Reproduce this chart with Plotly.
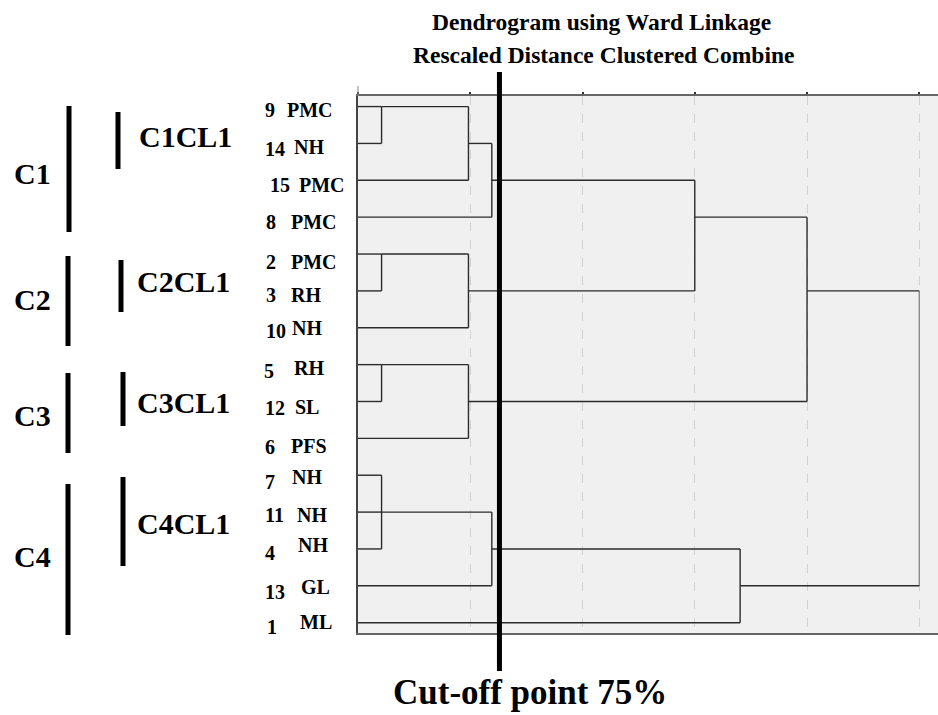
import plotly.graph_objects as go

# ---------------- data ----------------
leaf_ids = ["9", "14", "15", "8", "2", "3", "10", "5", "12", "6", "7", "11", "4", "13", "1"]
leaf_names = ["PMC", "NH", "PMC", "PMC", "PMC", "RH", "NH", "RH", "SL", "PFS", "NH", "NH", "NH", "GL", "ML"]

# merges: children (leaf index "L#" or merge index "M#"), rescaled distance, output row
merge_children = [
    ["L0", "L1"],          # M0  9,14
    ["M0", "L2"],          # M1  +15
    ["M1", "L3"],          # M2  +8
    ["L4", "L5"],          # M3  2,3
    ["M3", "L6"],          # M4  +10
    ["M2", "M4"],          # M5
    ["L7", "L8"],          # M6  5,12
    ["M6", "L9"],          # M7  +6
    ["M5", "M7"],          # M8
    ["L10", "L11", "L12"], # M9  7,11,4
    ["M9", "L13"],         # M10 +13
    ["M10", "L14"],        # M11 +1
    ["M8", "M11"],         # M12 root
]
merge_dist = [1.05, 4.92, 5.96, 1.05, 4.92, 15.0, 1.05, 4.92, 20.0, 1.05, 5.96, 17.02, 25.0]
merge_row = [0, 1, 2, 4, 5, 3, 7, 8, 5, 11, 12, 13, 13]

distance_ticks = [0, 5, 10, 15, 20, 25]
cut_off = 6.3

groups = ["C1", "C2", "C3", "C4"]
subgroups = ["C1CL1", "C2CL1", "C3CL1", "C4CL1"]

title_lines = ["Dendrogram using Ward Linkage", "Rescaled Distance Clustered Combine"]
cut_text = "Cut-off point 75%"

# ---------------- layout helpers ----------------
W, H = 938, 715
PL, PT, PB = 358, 96, 633
PW, PH = W - PL, PB - PT


def xp(px):
    return (px - PL) / PW


def yp(py):
    return (PB - py) / PH


def pos(node):
    if node.startswith("L"):
        return 0.0, int(node[1:])
    i = int(node[1:])
    return merge_dist[i], merge_row[i]


xs, ys = [], []
rx, ry = [], []
n_merge = len(merge_children)
for k, ch in enumerate(merge_children):
    d = merge_dist[k]
    cy = []
    for c in ch:
        x0, y0 = pos(c)
        xs += [x0, d, None]
        ys += [y0, y0, None]
        cy.append(y0)
    if k == n_merge - 1:
        rx += [d, d, None]
        ry += [min(cy), max(cy), None]
    else:
        xs += [d, d, None]
        ys += [min(cy), max(cy), None]

fig = go.Figure()
fig.add_trace(go.Scatter(x=rx, y=ry, mode="lines",
                         line=dict(color="#8a8a8a", width=1.4),
                         hoverinfo="skip", showlegend=False))
fig.add_trace(go.Scatter(x=xs, y=ys, mode="lines",
                         line=dict(color="#2b2b2b", width=1.4),
                         hoverinfo="skip", showlegend=False))

FONT = "Liberation Serif"

ann = []
# title
ann.append(dict(text=title_lines[0], x=xp(601), y=yp(22), xref="paper", yref="paper",
                showarrow=False, xanchor="center", yanchor="middle",
                font=dict(family=FONT, size=23.5, color="black", weight="bold")))
ann.append(dict(text=title_lines[1], x=xp(603), y=yp(55), xref="paper", yref="paper",
                showarrow=False, xanchor="center", yanchor="middle",
                font=dict(family=FONT, size=23.5, color="black", weight="bold")))
# cut-off text
ann.append(dict(text=cut_text, x=xp(530), y=yp(692), xref="paper", yref="paper",
                showarrow=False, xanchor="center", yanchor="middle",
                font=dict(family=FONT, size=35, color="black", weight="bold")))

# leaf labels
num_x = [263, 263, 268, 264, 264, 264, 264, 262, 263, 263, 263, 263, 263, 263, 265]
name_x = [285, 292, 297, 289, 289, 289, 290, 292, 293, 289, 290, 295, 296, 299, 298]
num_dy = [3, 6, 5, 5, 8, 4, 3, 6, 7, 9, 7, 3, 4, 6, 4]
name_dy = [3, 4, 5, 5, 8, 4, 0, 3, 6, 8, 2, 3, -4, 1, -1]
for i in range(len(leaf_ids)):
    ann.append(dict(text=leaf_ids[i], x=xp(num_x[i]), y=i, xref="paper", yref="y",
                    yshift=-num_dy[i], showarrow=False, xanchor="left", yanchor="middle",
                    font=dict(family=FONT, size=20, color="black", weight="bold")))
    ann.append(dict(text=leaf_names[i], x=xp(name_x[i]), y=i, xref="paper", yref="y",
                    yshift=-name_dy[i], showarrow=False, xanchor="left", yanchor="middle",
                    font=dict(family=FONT, size=20, color="black", weight="bold")))

# group labels and bars
grp_y = [174, 299, 415, 556]
grp_bar = [(69, 106, 232), (68, 256, 346), (68, 373, 453), (68, 484, 635)]
sub_y = [136, 281, 402, 523]
sub_x = [137, 135, 135, 135]
sub_bar = [(118, 112, 169), (121, 260, 312), (123, 372, 426), (123, 477, 566)]

shapes = []
for i in range(4):
    ann.append(dict(text=groups[i], x=xp(12), y=yp(grp_y[i]), xref="paper", yref="paper",
                    showarrow=False, xanchor="left", yanchor="middle",
                    font=dict(family=FONT, size=30, color="black", weight="bold")))
    ann.append(dict(text=subgroups[i], x=xp(sub_x[i]), y=yp(sub_y[i]), xref="paper", yref="paper",
                    showarrow=False, xanchor="left", yanchor="middle",
                    font=dict(family=FONT, size=30, color="black", weight="bold")))
    bx, b0, b1 = grp_bar[i]
    shapes.append(dict(type="line", xref="paper", yref="paper", x0=xp(bx), x1=xp(bx),
                       y0=yp(b0), y1=yp(b1), line=dict(color="black", width=5)))
    bx, b0, b1 = sub_bar[i]
    shapes.append(dict(type="line", xref="paper", yref="paper", x0=xp(bx), x1=xp(bx),
                       y0=yp(b0), y1=yp(b1), line=dict(color="black", width=5)))

# cut-off line
shapes.append(dict(type="line", xref="x", yref="paper", x0=cut_off, x1=cut_off,
                   y0=yp(72), y1=yp(671), line=dict(color="black", width=5)))
# left border extension above top
shapes.append(dict(type="line", xref="paper", yref="paper", x0=0, x1=0,
                   y0=1, y1=yp(86), line=dict(color="#888888", width=1)))

x_max = (W - PL) / ((919.3 - PL) / 25.0)

fig.update_layout(
    width=W, height=H,
    margin=dict(l=PL, r=0, t=PT, b=H - PB, pad=0, autoexpand=False),
    paper_bgcolor="white", plot_bgcolor="#f0f0f0",
    showlegend=False,
    annotations=ann, shapes=shapes,
    xaxis=dict(range=[0, x_max], side="top", tickvals=distance_ticks, showticklabels=False,
               ticks="outside", ticklen=2, tickcolor="#333333", tickwidth=2,
               showgrid=True, gridcolor="#d2d2d2", griddash="dash", gridwidth=1,
               zeroline=False, showline=True, linecolor="#666666", linewidth=2, mirror=True),
    yaxis=dict(range=[14 + 0.28, -0.287], showticklabels=False, ticks="",
               showgrid=False, zeroline=False, showline=True, linecolor="#444444", linewidth=1.5),
)

fig.write_html("out.html", config={"displayModeBar": False},
               post_script="document.body.style.margin='0';document.body.style.padding='0';"
                           "document.body.style.overflow='hidden';")
